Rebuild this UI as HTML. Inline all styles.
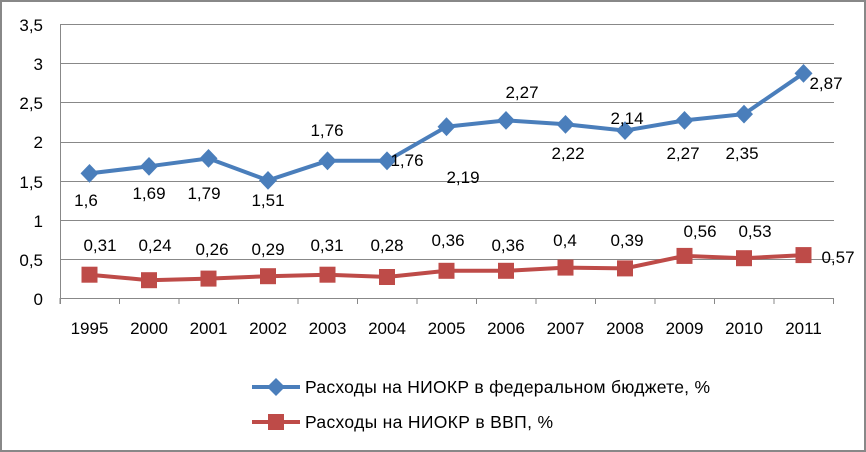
<!DOCTYPE html>
<html><head><meta charset="utf-8"><style>
html,body{margin:0;padding:0;background:#fff}
svg{display:block}
text{font-family:"Liberation Sans",sans-serif;font-size:17px;fill:#000}
.lg{font-size:17.5px}
</style></head><body>
<svg width="866" height="452" viewBox="0 0 866 452">
<rect x="1" y="1" width="864" height="450" fill="#fff" stroke="#888" stroke-width="2"/>
<g stroke="#888" stroke-width="1">
<line x1="60" y1="24.5" x2="834" y2="24.5"/>
<line x1="60" y1="63.5" x2="834" y2="63.5"/>
<line x1="60" y1="102.5" x2="834" y2="102.5"/>
<line x1="60" y1="142.5" x2="834" y2="142.5"/>
<line x1="60" y1="181.5" x2="834" y2="181.5"/>
<line x1="60" y1="220.5" x2="834" y2="220.5"/>
<line x1="60" y1="259.5" x2="834" y2="259.5"/>
<line x1="60" y1="298.5" x2="834" y2="298.5"/>
<line x1="60.5" y1="24" x2="60.5" y2="304"/>
</g>
<g stroke="#888">
<line x1="60" y1="298" x2="60" y2="304"/><line x1="119.5" y1="298" x2="119.5" y2="304"/><line x1="179" y1="298" x2="179" y2="304"/><line x1="238.5" y1="298" x2="238.5" y2="304"/><line x1="298" y1="298" x2="298" y2="304"/><line x1="357.5" y1="298" x2="357.5" y2="304"/><line x1="417" y1="298" x2="417" y2="304"/><line x1="476.5" y1="298" x2="476.5" y2="304"/><line x1="536" y1="298" x2="536" y2="304"/><line x1="595.5" y1="298" x2="595.5" y2="304"/><line x1="655" y1="298" x2="655" y2="304"/><line x1="714.5" y1="298" x2="714.5" y2="304"/><line x1="774" y1="298" x2="774" y2="304"/><line x1="833.5" y1="298" x2="833.5" y2="304"/>
</g>
<g text-anchor="end">
<text x="43" y="31">3,5</text><text x="43" y="70">3</text><text x="43" y="109">2,5</text><text x="43" y="148">2</text><text x="43" y="188">1,5</text><text x="43" y="227">1</text><text x="43" y="266">0,5</text><text x="43" y="305">0</text>
</g>
<g text-anchor="middle">
<text x="89.5" y="334">1995</text><text x="149" y="334">2000</text><text x="208.5" y="334">2001</text><text x="268" y="334">2002</text><text x="327.5" y="334">2003</text><text x="387" y="334">2004</text><text x="446.5" y="334">2005</text><text x="506" y="334">2006</text><text x="565.5" y="334">2007</text><text x="625" y="334">2008</text><text x="684.5" y="334">2009</text><text x="744" y="334">2010</text><text x="803.5" y="334">2011</text>
</g>
<polyline fill="none" stroke="#4a7ebb" stroke-width="4" points="89.5,173.4 149,166.3 208.5,158.4 268,180.4 327.5,160.8 387,160.8 446.5,126.7 506,120.4 565.5,124.3 625,130.6 684.5,120.4 744,114.1 803.5,73.3"/>
<g fill="#4a7ebb">
<path d="M89.5 164l9 9.4-9 9.4-9-9.4z"/><path d="M149 157l9 9.4-9 9.4-9-9.4z"/><path d="M208.5 149l9 9.4-9 9.4-9-9.4z"/><path d="M268 171l9 9.4-9 9.4-9-9.4z"/><path d="M327.5 151.4l9 9.4-9 9.4-9-9.4z"/><path d="M387 151.4l9 9.4-9 9.4-9-9.4z"/><path d="M446.5 117.3l9 9.4-9 9.4-9-9.4z"/><path d="M506 111l9 9.4-9 9.4-9-9.4z"/><path d="M565.5 115l9 9.4-9 9.4-9-9.4z"/><path d="M625 121.2l9 9.4-9 9.4-9-9.4z"/><path d="M684.5 111l9 9.4-9 9.4-9-9.4z"/><path d="M744 104.7l9 9.4-9 9.4-9-9.4z"/><path d="M803.5 64l9 9.4-9 9.4-9-9.4z"/>
</g>
<polyline fill="none" stroke="#be4b48" stroke-width="4" points="89.5,274.7 149,280.2 208.5,278.6 268,276.2 327.5,274.7 387,277 446.5,270.8 506,270.8 565.5,267.6 625,268.4 684.5,255.9 744,258.2 803.5,255.1"/>
<g fill="#be4b48">
<rect x="81.5" y="266.7" width="16" height="16"/><rect x="141" y="272.2" width="16" height="16"/><rect x="200.5" y="270.6" width="16" height="16"/><rect x="260" y="268.2" width="16" height="16"/><rect x="319.5" y="266.7" width="16" height="16"/><rect x="379" y="269" width="16" height="16"/><rect x="438.5" y="262.8" width="16" height="16"/><rect x="498" y="262.8" width="16" height="16"/><rect x="557.5" y="259.6" width="16" height="16"/><rect x="617" y="260.4" width="16" height="16"/><rect x="676.5" y="247.9" width="16" height="16"/><rect x="736" y="250.2" width="16" height="16"/><rect x="795.5" y="247.1" width="16" height="16"/>
</g>
<g text-anchor="middle">
<text x="86" y="206">1,6</text><text x="149" y="199">1,69</text><text x="204" y="199">1,79</text><text x="268" y="206">1,51</text><text x="327" y="136">1,76</text><text x="407" y="166">1,76</text><text x="463" y="183">2,19</text><text x="522" y="98">2,27</text><text x="568" y="159">2,22</text><text x="627" y="124">2,14</text><text x="683" y="159">2,27</text><text x="742" y="159">2,35</text><text x="826" y="89">2,87</text>
<text x="100" y="251">0,31</text><text x="155" y="251">0,24</text><text x="212" y="255">0,26</text><text x="268" y="255">0,29</text><text x="327" y="251">0,31</text><text x="387" y="251">0,28</text><text x="448" y="246">0,36</text><text x="508" y="251">0,36</text><text x="565" y="246">0,4</text><text x="627" y="246">0,39</text><text x="700" y="237">0,56</text><text x="755" y="237">0,53</text><text x="838" y="263">0,57</text>
</g>
<line x1="252" y1="387" x2="300" y2="387" stroke="#4a7ebb" stroke-width="4"/>
<path d="M276 378l9 9-9 9-9-9z" fill="#4a7ebb"/>
<text class="lg" x="305" y="393" textLength="405">Расходы на НИОКР в федеральном бюджете, %</text>
<line x1="252" y1="422" x2="300" y2="422" stroke="#be4b48" stroke-width="4"/>
<rect x="268" y="414" width="16" height="16" fill="#be4b48"/>
<text class="lg" x="305" y="428" textLength="248">Расходы на НИОКР в ВВП, %</text>
</svg>
</body></html>
